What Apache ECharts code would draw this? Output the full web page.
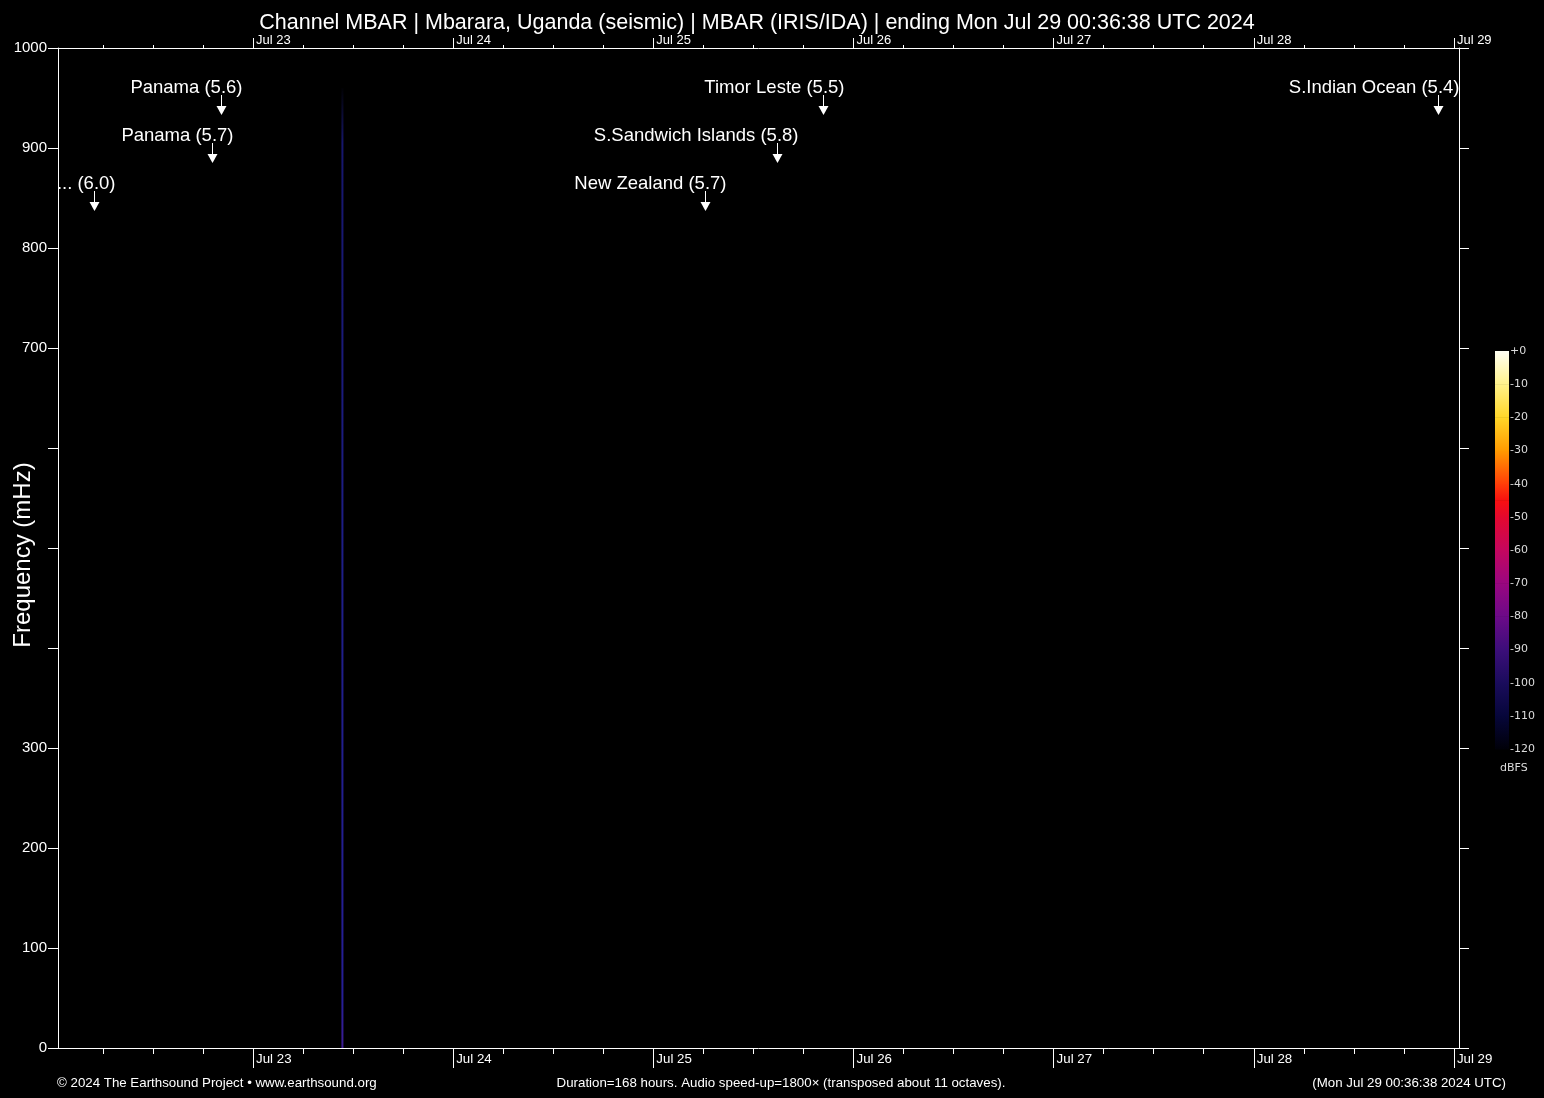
<!DOCTYPE html>
<html>
<head>
<meta charset="utf-8">
<script src="https://cdn.jsdelivr.net/npm/echarts@6/dist/echarts.min.js"></script>
<style>
html,body{margin:0;padding:0;background:#000;}
#chart{width:1544px;height:1098px;}
</style>
</head>
<body>
<div id="chart"></div>
<script>
// ---------- data ----------
const mainTitle = 'Channel MBAR | Mbarara, Uganda (seismic) | MBAR (IRIS/IDA) | ending Mon Jul 29 00:36:38 UTC 2024';
const footerLeft = '\u00a9 2024 The Earthsound Project \u2022 www.earthsound.org';
const footerCenter = 'Duration=168 hours. Audio speed-up=1800\u00d7 (transposed about 11 octaves).';
const footerRight = '(Mon Jul 29 00:36:38 2024 UTC)';

const startTime = '2024-07-22T00:36:38Z';
const endTime = '2024-07-29T00:36:38Z';

const dayTicks = ['2024-07-23T00:00:00Z','2024-07-24T00:00:00Z','2024-07-25T00:00:00Z','2024-07-26T00:00:00Z','2024-07-27T00:00:00Z','2024-07-28T00:00:00Z','2024-07-29T00:00:00Z'];
const dayLabels = ['Jul 23','Jul 24','Jul 25','Jul 26','Jul 27','Jul 28','Jul 29'];
const minorStepHours = 6;

const freqMin = 0, freqMax = 1000, freqStep = 100;
const freqLabeled = [0, 100, 200, 300, 700, 800, 900, 1000];
const freqAxisName = 'Frequency (mHz)';

// single broadband streak in the spectrogram
const spikeTime = '2024-07-23T10:43:00Z';
const spikeFreqs = [0, 960];

// earthquake annotations
const quakeTimes = ['2024-07-22T04:59:00Z','2024-07-22T19:07:00Z','2024-07-22T20:12:00Z','2024-07-25T06:12:00Z','2024-07-25T14:48:00Z','2024-07-25T20:19:00Z','2024-07-28T22:03:00Z'];
const quakeLabels = ['... (6.0)','Panama (5.7)','Panama (5.6)','New Zealand (5.7)','S.Sandwich Islands (5.8)','Timor Leste (5.5)','S.Indian Ocean (5.4)'];
const quakeRows = [2, 1, 0, 2, 1, 0, 0];

// colour scale
const dbMin = -120, dbMax = 0, dbStep = 10;
const dbUnit = 'dBFS';
const cmapDb =     [-120,     -110,     -100,     -90,      -80,      -70,      -60,      -50,      -45,      -40,      -30,      -20,      -10,      0];
const cmapColors = ['#000008','#06063a','#1a0c5c','#3c0e7a','#6c0a88','#9a0680','#c4065e','#e4082e','#f81010','#ff3e08','#ff9a00','#ffd628','#fff28a','#fffff4'];

// ---------- build ----------
const ms = s => Date.parse(s);
const tStart = ms(startTime), tEnd = ms(endTime);
const majorVals = dayTicks.map(ms);
const minorVals = [];
for (let t = majorVals[0] - 86400000; t <= tEnd; t += minorStepHours * 3600000) {
  if (t >= tStart) minorVals.push(t);
}
const dayLabelOf = v => { const i = majorVals.indexOf(v); return i >= 0 ? dayLabels[i] : ''; };

const FONT = 'Arial, "Liberation Sans", Helvetica, sans-serif';
const white = '#ffffff';
const lineStyle = { color: white, width: 1 };

const chart = echarts.init(document.getElementById('chart'), null, { renderer: 'canvas' });

const option = {
  backgroundColor: '#000000',
  animation: false,
  grid: [
    { left: 58, right: 85, top: 48, bottom: 50, containLabel: false, outerBoundsMode: 'none' },
    { left: 1495, width: 14, top: 351, height: 398, containLabel: false, outerBoundsMode: 'none' }
  ],
  xAxis: [
    { gridIndex: 0, type: 'value', position: 'bottom', min: tStart, max: tEnd,
      axisLine: { show: true, lineStyle },
      axisTick: { show: true, inside: false, length: 20, customValues: majorVals, lineStyle },
      axisLabel: { show: true, customValues: majorVals, formatter: dayLabelOf, color: white, fontSize: 13.3, fontFamily: FONT, align: 'left', verticalAlign: 'top', margin: 5, padding: [0, 0, 0, 3] },
      splitLine: { show: false } },
    { gridIndex: 0, type: 'value', position: 'bottom', min: tStart, max: tEnd,
      axisLine: { show: false },
      axisTick: { show: true, inside: false, length: 6, customValues: minorVals, lineStyle },
      axisLabel: { show: false }, splitLine: { show: false } },
    { gridIndex: 0, type: 'value', position: 'top', min: tStart, max: tEnd,
      axisLine: { show: true, lineStyle },
      axisTick: { show: true, inside: false, length: 10, customValues: majorVals, lineStyle },
      axisLabel: { show: true, customValues: majorVals, formatter: dayLabelOf, color: white, fontSize: 13, fontFamily: FONT, align: 'left', verticalAlign: 'bottom', margin: 1, padding: [0, 0, 0, 3] },
      splitLine: { show: false } },
    { gridIndex: 0, type: 'value', position: 'top', min: tStart, max: tEnd,
      axisLine: { show: false },
      axisTick: { show: true, inside: false, length: 3, customValues: minorVals, lineStyle },
      axisLabel: { show: false }, splitLine: { show: false } },
    { gridIndex: 1, type: 'value', min: 0, max: 1, show: false }
  ],
  yAxis: [
    { gridIndex: 0, type: 'value', position: 'left', min: freqMin, max: freqMax, interval: freqStep,
      name: freqAxisName, nameLocation: 'middle', nameGap: 23, nameRotate: 90, nameMoveOverlap: false,
      nameTextStyle: { color: white, fontSize: 24, fontFamily: FONT, padding: [0, 14, 0, 0] },
      axisLine: { show: true, lineStyle },
      axisTick: { show: true, inside: false, length: 10, lineStyle },
      axisLabel: { color: white, fontSize: 15, fontFamily: FONT, margin: 11,
        formatter: v => freqLabeled.indexOf(v) >= 0 ? String(v) : '' },
      splitLine: { show: false } },
    { gridIndex: 0, type: 'value', position: 'right', min: freqMin, max: freqMax, interval: freqStep,
      axisLine: { show: true, lineStyle },
      axisTick: { show: true, inside: false, length: 10, lineStyle },
      axisLabel: { show: false }, splitLine: { show: false } },
    { gridIndex: 1, type: 'value', position: 'right', min: dbMin, max: dbMax, interval: dbStep,
      axisLine: { show: false }, axisTick: { show: false }, splitLine: { show: false },
      axisLabel: { color: '#dcdcdc', fontSize: 11, fontFamily: '"DejaVu Sans", Verdana, sans-serif', margin: 1,
        formatter: v => v === 0 ? '+0' : String(v) } }
  ],
  graphic: [
    { type: 'text', x: 757, y: 23, style: { text: mainTitle, fill: white, font: '21.5px ' + FONT, textAlign: 'center', textVerticalAlign: 'middle' } },
    { type: 'text', x: 57, y: 1083, style: { text: footerLeft, fill: white, font: '13.3px ' + FONT, textAlign: 'left', textVerticalAlign: 'middle' } },
    { type: 'text', x: 781, y: 1083, style: { text: footerCenter, fill: white, font: '13.3px ' + FONT, textAlign: 'center', textVerticalAlign: 'middle' } },
    { type: 'text', x: 1506, y: 1083, style: { text: footerRight, fill: white, font: '13.3px ' + FONT, textAlign: 'right', textVerticalAlign: 'middle' } },
    { type: 'text', x: 1500, y: 768, style: { text: dbUnit, fill: '#dcdcdc', font: '11px "DejaVu Sans", Verdana, sans-serif', textAlign: 'left', textVerticalAlign: 'middle' } }
  ],
  series: [
    { type: 'line', xAxisIndex: 0, yAxisIndex: 0, symbol: 'none', silent: true,
      data: spikeFreqs.map(f => [ms(spikeTime), f]),
      lineStyle: { width: 2, color: { type: 'linear', x: 0, y: 0, x2: 0, y2: 1, colorStops: [
        { offset: 0, color: 'rgba(24,24,100,0)' },
        { offset: 0.06, color: '#16166c' },
        { offset: 0.5, color: '#1e1e88' },
        { offset: 0.95, color: '#261e96' },
        { offset: 1, color: '#3e1c94' } ] } } },
    { type: 'custom', xAxisIndex: 0, yAxisIndex: 0, silent: true, clip: false,
      data: quakeTimes.map((t, i) => [ms(t), quakeRows[i]]),
      renderItem: (params, api) => {
        const p = api.coord([api.value(0), freqMax]);
        const x = Math.round(p[0]) + 0.5;
        const row = api.value(1);
        const ty = p[1] + 38 + 48 * row;
        return { type: 'group', children: [
          { type: 'text', style: { x: x + 21, y: ty + 2, text: quakeLabels[params.dataIndex], fill: white, font: '18.5px ' + FONT, textAlign: 'right', textVerticalAlign: 'middle' } },
          { type: 'line', shape: { x1: x, y1: ty + 9, x2: x, y2: ty + 21 }, style: { stroke: white, lineWidth: 1 } },
          { type: 'polygon', shape: { points: [[x - 5, ty + 20], [x + 5, ty + 20], [x, ty + 29]] }, style: { fill: white } }
        ] };
      } },
    { type: 'custom', xAxisIndex: 4, yAxisIndex: 2, silent: true, clip: false,
      data: cmapDb.slice(1).map((d, i) => [cmapDb[i], d]),
      renderItem: (params, api) => {
        const i = params.dataIndex;
        const lo = api.coord([0, api.value(0)]);
        const hi = api.coord([1, api.value(1)]);
        return { type: 'rect', shape: { x: lo[0], y: hi[1], width: hi[0] - lo[0], height: lo[1] - hi[1] + 0.5 },
          style: { fill: { type: 'linear', x: 0, y: 0, x2: 0, y2: 1, colorStops: [
            { offset: 0, color: cmapColors[i + 1] }, { offset: 1, color: cmapColors[i] } ] } } };
      } }
  ]
};
chart.setOption(option);
</script>
</body>
</html>
